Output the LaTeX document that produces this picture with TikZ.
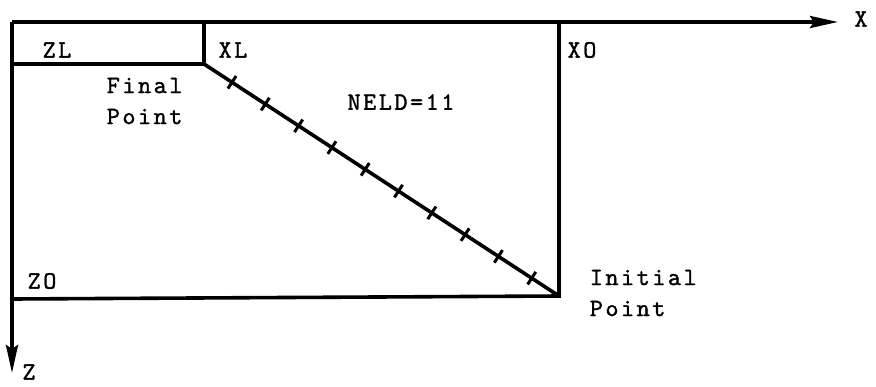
\documentclass[tikz,border=0pt]{standalone}
\usepackage{fontspec}
\setmonofont{lmmono10-regular.otf}[LetterSpace=10,FakeBold=1.2]
\usetikzlibrary{arrows.meta,calc}
\begin{document}
\begin{tikzpicture}[x=1pt,y=-1pt,line width=3.6pt,line join=miter,
  lbl/.style={font=\ttfamily\fontsize{25}{31}\selectfont,inner sep=0pt},
  axisline/.style={-{Stealth[length=28pt,width=12pt,inset=4pt]}},
  tickmark/.style={line width=3pt}]
\useasboundingbox (0,0) rectangle (876,386);
% corners
\coordinate (O) at (12,22);
\coordinate (Xend) at (838,22);
\coordinate (Zend) at (12,373);
\coordinate (ZLb) at (12,64);
\coordinate (XLt) at (204,22);
\coordinate (XLb) at (204,64);
\coordinate (XOt) at (559,22);
\coordinate (XOb) at (559,296);
\coordinate (ZOl) at (12,299);
% axes
\draw[axisline] (O) -- (Xend);
\draw[axisline] (O) -- (Zend);
% boxes
\draw (ZLb) -- (XLb) -- (XLt);
\draw (XOt) -- (XOb) -- (ZOl);
% diagonal
\draw (XLb) -- (XOb);
\foreach \k in {1,...,10}{
  \pgfmathsetmacro\frac{(28+(\k-1)*33.3)/355}
  \coordinate (t\k) at ($(XLb)!\frac!(XOb)$);
  \draw[tickmark] ($(t\k)!7.5pt!90:(XOb)$) -- ($(t\k)!7.5pt!-90:(XOb)$);
}
% labels
\node[lbl] (xlab) at (861,19) {X};
\node[lbl] (zlab) at (29,372) {Z};
\node[lbl] (zl) at (57,50) {ZL};
\node[lbl] (xl) at (233,50) {XL};
\node[lbl] (xo) at (582,50) {XO};
\node[lbl] (zo) at (42,281) {ZO};
\node[lbl] (neld) at (401,102) {NELD=11};
\node[lbl,align=left,anchor=west] (fp) at (105,101) {Final\\Point};
\node[lbl,align=left,anchor=west] (ip) at (588,293) {Initial\\Point};
\end{tikzpicture}
\end{document}
